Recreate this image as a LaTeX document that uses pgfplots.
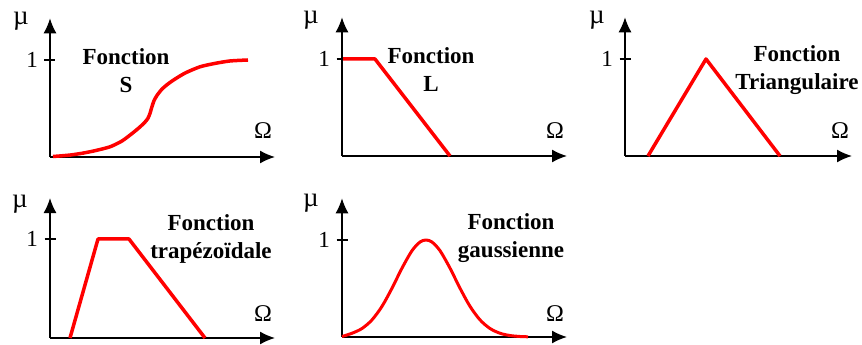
\documentclass[border=0pt]{standalone}
\usepackage{fontspec}
\setmainfont{Liberation Serif}
\usepackage{pgfplots}
\pgfplotsset{compat=1.18}
\usetikzlibrary{arrows.meta}
\pgfplotsset{
  fz/.style={
    axis lines=left,
    axis line style={line width=1.5pt, -{Latex[length=15pt,width=13pt]}},
    x=1pt, y=97pt,
    xmin=0, xmax=225, ymin=0, ymax=1.43,
    xtick=\empty, ytick={1}, yticklabels={1},
    tick align=center, major tick length=11pt,
    every tick/.style={black, line width=1.2pt},
    yticklabel style={font=\fontsize{23}{23}\selectfont, xshift=-3pt},
    clip=false, anchor=origin, scale only axis,
  },
}
\tikzset{
  lbl/.style={font=\fontsize{23}{28}\selectfont\bfseries, align=center},
  sym/.style={font=\fontsize{24}{24}\selectfont},
  mu/.style={font=\fontsize{27}{27}\selectfont},
}
\begin{document}
\begin{tikzpicture}
\useasboundingbox (0,0) rectangle (862pt,345pt);
% Panel 1: S
\begin{axis}[fz, at={(50pt,188pt)}]
\addplot[red, line width=3.5pt, line join=round, smooth, tension=0.4] coordinates {
(3,0.005)(20,0.02)(33,0.04)(45,0.065)(60,0.105)(72,0.165)(83,0.25)(90,0.31)(95,0.36)(98,0.40)(100,0.45)(102,0.52)(104,0.58)(107,0.635)(112,0.70)(117,0.745)(123,0.79)(135,0.865)(150,0.93)(165,0.965)(180,0.99)(198,1.0)};
\node[lbl] at (axis cs:76,0.887) {Fonction\\S};
\node[mu] at (axis cs:-29,1.40) {µ};
\node[sym] at (axis cs:213,0.27) {Ω};
\end{axis}
% Panel 2: L
\begin{axis}[fz, at={(342pt,189pt)}]
\addplot[red, line width=3.5pt, line join=round] coordinates {(1,1)(33,1)(108,0)};
\node[lbl] at (axis cs:89,0.887) {Fonction\\L};
\node[mu] at (axis cs:-31,1.40) {µ};
\node[sym] at (axis cs:213,0.26) {Ω};
\end{axis}
% Panel 3: triangle
\begin{axis}[fz, at={(625pt,189pt)}, xmax=227]
\addplot[red, line width=3.5pt, line join=round] coordinates {(23,0)(81,1)(155,0)};
\node[lbl] at (axis cs:172,0.887) {Fonction\\Triangulaire};
\node[mu] at (axis cs:-28,1.40) {µ};
\node[sym] at (axis cs:215,0.26) {Ω};
\end{axis}
% Panel 4: trapezoid
\begin{axis}[fz, at={(50pt,7pt)}, y=99pt, ymax=1.414]
\addplot[red, line width=3.5pt, line join=round] coordinates {(20,0)(48,1)(79,1)(155,0)};
\node[lbl] at (axis cs:161,1.005) {Fonction\\trapézoïdale};
\node[mu] at (axis cs:-30,1.35) {µ};
\node[sym] at (axis cs:213,0.245) {Ω};
\end{axis}
% Panel 5: gaussian
\begin{axis}[fz, at={(342pt,8pt)}]
\addplot[red, line width=3pt, line join=round, smooth] coordinates {
(0,0.005)(10,0.0386)(20,0.0876)(30,0.1766)(40,0.3163)(50,0.503)(60,0.710)(70,0.890)(78,0.979)(84,1)(90,0.979)(98,0.890)(108,0.710)(118,0.503)(128,0.3163)(138,0.1766)(148,0.0876)(158,0.0386)(168,0.0151)(178,0.0052)(186,0.0021)};
\node[lbl] at (axis cs:169,1.02) {Fonction\\gaussienne};
\node[mu] at (axis cs:-31,1.38) {µ};
\node[sym] at (axis cs:213,0.245) {Ω};
\end{axis}
\end{tikzpicture}
\end{document}
